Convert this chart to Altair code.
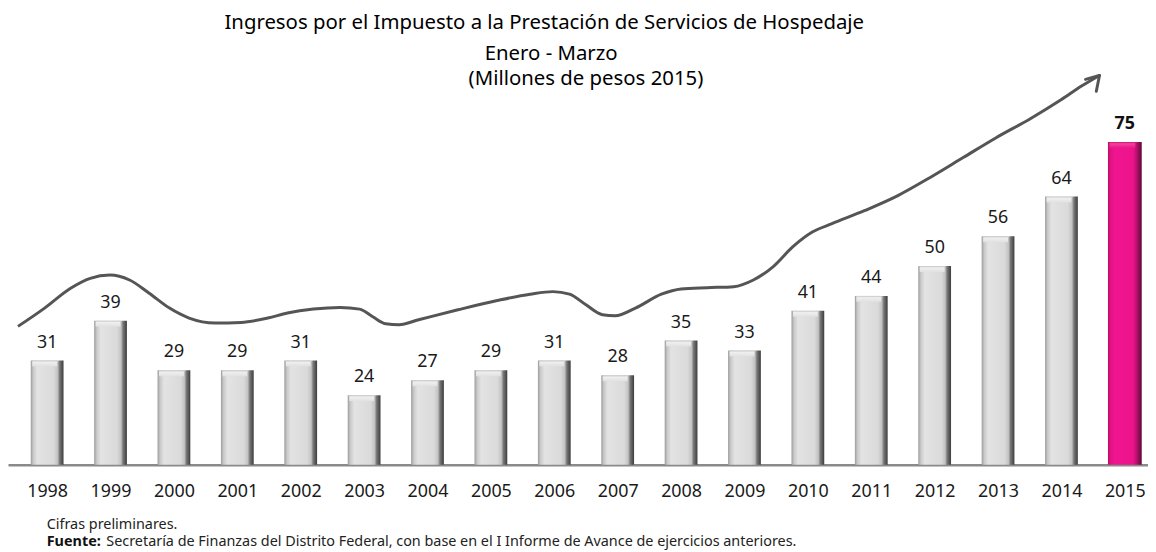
import altair as alt
import pandas as pd

years = list(range(1998, 2016))
values = [31, 39, 29, 29, 31, 24, 27, 29, 31, 28, 35, 33, 41, 44, 50, 56, 64, 75]
highlight = [False] * 17 + [True]

# decorative trend arrow (year, value units)
curve_year = [1997.54, 1997.96, 1998.37, 1998.68, 1998.99, 1999.30, 1999.61, 1999.93,
              2000.24, 2000.65, 2001.06, 2001.48, 2001.79, 2002.20, 2002.62, 2002.93,
              2003.13, 2003.34, 2003.55, 2003.86, 2004.48, 2005.10, 2005.62, 2005.98,
              2006.24, 2006.50, 2006.76, 2006.96, 2007.28, 2007.69, 2008.00, 2008.41,
              2008.83, 2009.14, 2009.45, 2009.76, 2010.07, 2010.38, 2010.90, 2011.42,
              2011.93, 2012.45, 2012.97, 2013.49, 2014.00, 2014.31, 2014.60]
curve_val = [37.86, 41.54, 45.54, 47.54, 48.20, 47.20, 44.54, 41.54,
             39.54, 38.54, 38.66, 39.54, 40.54, 41.34, 41.66, 41.34,
             39.86, 38.40, 38.20, 39.20, 41.20, 43.06, 44.34, 44.86,
             44.34, 42.20, 40.20, 40.00, 41.54, 44.34, 45.40, 45.66,
             45.86, 47.20, 49.86, 53.86, 56.86, 58.54, 61.20, 64.20,
             67.86, 71.86, 75.86, 79.54, 83.54, 86.20, 88.40]
head_seg = ["a", "a", "b", "b"]
head_year = [2014.38, 2014.60, 2014.55, 2014.60]
head_val = [87.60, 88.40, 85.20, 88.40]

title_lines = ["Ingresos por el Impuesto a la Prestación de Servicios de Hospedaje",
               "Enero - Marzo",
               "(Millones de pesos 2015)"]
note_line = "Cifras preliminares."
source_label = "Fuente:"
source_text = "Secretaría de Finanzas del Distrito Federal, con base en el I Informe de Avance de ejercicios anteriores."

FONT = "Noto Sans"
W, H = 1148, 406
STEP = 64.4
X0 = 1997.461

df = pd.DataFrame({"year": years, "value": values, "hl": highlight})
df["label"] = df["value"].astype(str)
curve = pd.DataFrame({"year": curve_year, "value": curve_val})
head = pd.DataFrame({"seg": head_seg, "year": head_year, "value": head_val})

xscale = alt.Scale(domain=[X0, X0 + W / STEP], nice=False, zero=False)
yscale = alt.Scale(domain=[10, 10 + H / 5.0], nice=False, zero=False)


def hgrad(pairs):
    return alt.LinearGradient(gradient="linear", x1=0, x2=1, y1=0, y2=0,
                              stops=[alt.GradientStop(color=c, offset=o) for o, c in pairs])


def vgrad(pairs):
    return alt.LinearGradient(gradient="linear", x1=0, x2=0, y1=0, y2=1,
                              stops=[alt.GradientStop(color=c, offset=o) for o, c in pairs])


gray_grad = hgrad([(0, "#9c9c9c"), (0.08, "#c9c9c9"), (0.2, "#e3e3e3"), (0.7, "#dadada"),
                   (0.82, "#c2c2c2"), (0.88, "#787878"), (1, "#3c3c3c")])
pink_grad = hgrad([(0, "#b3106c"), (0.08, "#e2127f"), (0.2, "#ef1590"), (0.75, "#ec138b"),
                   (0.86, "#b20f6b"), (1, "#5c0a34")])
gray_cap = vgrad([(0, "#c4c4c4"), (0.3, "#efefef"), (1, "#e0e0e0")])
pink_cap = vgrad([(0, "#c8106f"), (0.3, "#f2419d"), (1, "#ec168c")])

base = alt.Chart(df).transform_calculate(cap="datum.value - 1.2")

xq = alt.X("year:Q", scale=xscale)
yq = alt.Y("value:Q", scale=yscale)

x_enc = alt.X("year:Q", scale=xscale,
              axis=alt.Axis(values=years, format="d", title=None, grid=False,
                            ticks=False, tickSize=0, labelFont=FONT, labelFontSize=18,
                            labelColor="#1a1a1a", labelPadding=32,
                            labelBaseline="alphabetic", domainColor="#8a8a8a",
                            domainWidth=2.5, labelFlush=False, labelOverlap=False))
y_enc = alt.Y("value:Q", scale=yscale, axis=None)

bars = base.transform_filter("!datum.hl").mark_bar(size=33, color=gray_grad).encode(
    x=x_enc, y=y_enc, y2=alt.datum(10))
caps = base.transform_filter("!datum.hl").mark_bar(size=25, color=gray_cap, xOffset=-2.5).encode(
    x=xq, y=yq, y2="cap:Q")
bar_hl = base.transform_filter("datum.hl").mark_bar(size=34, color=pink_grad).encode(
    x=xq, y=yq, y2=alt.datum(10))
cap_hl = base.transform_filter("datum.hl").mark_bar(size=26, color=pink_cap, xOffset=-2.5).encode(
    x=xq, y=yq, y2="cap:Q")

labels = base.transform_filter("!datum.hl").mark_text(
    font=FONT, fontSize=18, color="#1a1a1a", baseline="alphabetic", dy=-13
).encode(x=xq, y=yq, text="label:N")
label_hl = base.transform_filter("datum.hl").mark_text(
    font=FONT, fontSize=18, fontWeight="bold", color="#111111", baseline="alphabetic", dy=-13
).encode(x=xq, y=yq, text="label:N")

trend = alt.Chart(curve).mark_line(color="#555555", strokeWidth=3, interpolate="monotone").encode(
    x=xq, y=yq)
arrow = alt.Chart(head).mark_line(color="#555555", strokeWidth=3, strokeCap="round").encode(
    x=xq, y=yq, detail="seg:N")


def txt(s, x, y, size, weight="normal", align="center", baseline="middle", color="#111111"):
    return alt.Chart(pd.DataFrame({"t": [s]})).mark_text(
        font=FONT, fontSize=size, fontWeight=weight, color=color,
        align=align, baseline=baseline
    ).encode(x=alt.value(x), y=alt.value(y), text="t:N")


t1 = txt(title_lines[0], 540, -39, 20.5, color="#000000")
t2 = txt(title_lines[1], 547, -8, 20.5, color="#000000")
t3 = txt(title_lines[2], 582, 18, 20.5, color="#000000")
f1 = txt(note_line, 39, 471, 14.5, align="left", baseline="alphabetic", color="#222222")
f2 = txt(source_label, 39, 488, 14.5, weight="bold", align="left", baseline="alphabetic", color="#111111")
f3 = txt(source_text, 99, 488, 14.5, align="left", baseline="alphabetic", color="#222222")

chart = alt.layer(bars, caps, bar_hl, cap_hl, labels, label_hl, trend, arrow,
                  t1, t2, t3, f1, f2, f3).properties(
    width=W, height=H,
    background="white",
    autosize=alt.AutoSizeParams(type="none"),
    padding={"left": 0, "right": 0, "top": 52, "bottom": 86},
).configure_view(strokeWidth=0, stroke="transparent")

chart.save("out.html", embed_options={"renderer": "svg", "actions": False})
